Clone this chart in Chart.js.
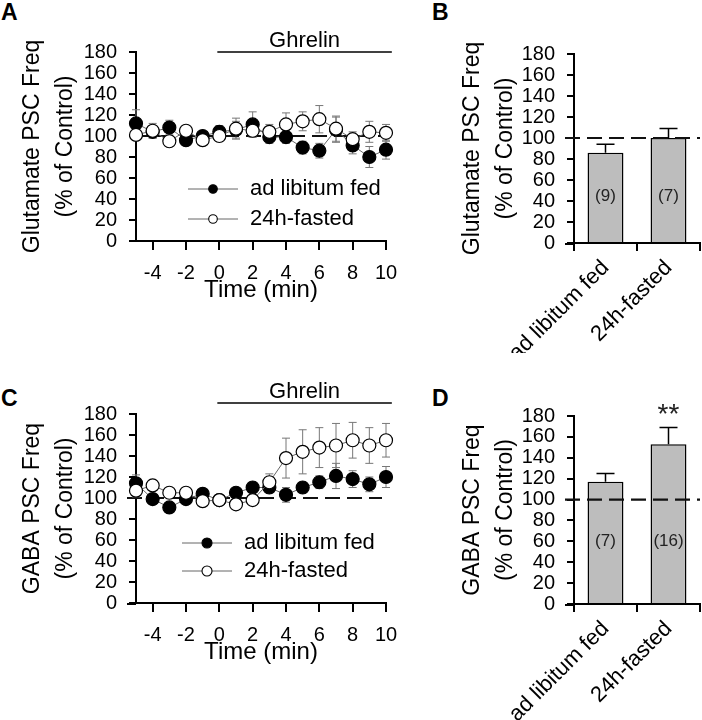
<!DOCTYPE html>
<html>
<head>
<meta charset="utf-8">
<script src="https://cdn.jsdelivr.net/npm/chart.js@4.4.1/dist/chart.umd.min.js"></script>
<style>
  body { margin: 0; background: #fff; width: 702px; height: 720px; position: relative; overflow: hidden; }
  canvas { position: absolute; }
  .letter { position: absolute; font: bold 23px "Liberation Sans", Arial, sans-serif; line-height: 23px; color: #000; }
</style>
</head>
<body>
<div class="letter" style="left:1px;top:1px">A</div>
<div class="letter" style="left:432px;top:1px">B</div>
<div class="letter" style="left:1px;top:387px">C</div>
<div class="letter" style="left:432px;top:387px">D</div>

<canvas id="chartA" width="410" height="320" style="left:0;top:0"></canvas>
<canvas id="chartB" width="272" height="353" style="left:430px;top:0"></canvas>
<canvas id="chartC" width="410" height="320" style="left:0;top:362px"></canvas>
<canvas id="chartD" width="272" height="358" style="left:430px;top:362px"></canvas>

<script>
Chart.defaults.font.family = '"Liberation Sans", Arial, sans-serif';
Chart.defaults.color = "#000";

// time course (min) and axis ticks
const times = [-5, -4, -3, -2, -1, 0, 1, 2, 3, 4, 5, 6, 7, 8, 9, 10];
const xTicks = [-4, -2, 0, 2, 4, 6, 8, 10];
const yTicks = [0, 20, 40, 60, 80, 100, 120, 140, 160, 180];
const seriesNames = ["ad libitum fed", "24h-fasted"];

// A: glutamate PSC frequency (% of control)
const gluFed = [112, 104, 108, 96, 100, 104, 106, 111, 99, 99, 89, 86, 106, 91, 80, 87];
const gluFedErr = [13, 6, 7, 5, 4, 6, 8, 12, 6, 6, 6, 7, 12, 8, 10, 9];
const gluFasted = [101, 105, 95, 105, 96, 100, 107, 105, 104, 111, 114, 116, 107, 97, 104, 103];
const gluFastedErr = [5, 7, 5, 4, 4, 5, 10, 6, 7, 11, 9, 13, 12, 7, 10, 8];

// C: GABA PSC frequency (% of control)
const gabaFed = [114, 99, 91, 99, 104, 98, 105, 110, 110, 103, 110, 115, 121, 118, 113, 120];
const gabaFedErr = [8, 5, 4, 4, 4, 4, 4, 5, 5, 7, 5, 6, 12, 8, 7, 10];
const gabaFasted = [107, 112, 105, 105, 97, 98, 94, 98, 115, 138, 144, 148, 150, 155, 150, 155];
const gabaFastedErr = [6, 5, 4, 4, 4, 4, 4, 5, 8, 19, 21, 19, 21, 17, 17, 16];

// B and D: summary bars
const barCategories = ["ad libitum fed", "24h-fasted"];
const gluBars = [86, 100];
const gluBarsErr = [8, 9];
const gluN = ["(9)", "(7)"];
const gabaBars = [117, 153];
const gabaBarsErr = [8, 16];
const gabaN = ["(7)", "(16)"];
const gabaStars = ["", "**"];

const FONT = '"Liberation Sans", Arial, sans-serif';

function drawRefLine(chart, r) {
    const ctx = chart.ctx, a = chart.chartArea;
    const y = chart.scales.y.getPixelForValue(r.value);
    ctx.save();
    ctx.strokeStyle = "#111";
    ctx.lineWidth = 2.2;
    ctx.setLineDash([15, 7]);
    ctx.beginPath();
    ctx.moveTo(a.left - (r.extendLeft || 0), y);
    ctx.lineTo(a.right - (r.trimRight || 0), y);
    ctx.stroke();
    ctx.restore();
}

// dashed control line, error bars, ghrelin bar, legend, n labels
const panelDecor = {
    id: "panelDecor",
    beforeDatasetsDraw(chart, args, o) {
        const ctx = chart.ctx, yScale = chart.scales.y;
        if (o.refLine && !o.refLine.onTop) drawRefLine(chart, o.refLine);
        chart.data.datasets.forEach((ds, di) => {
            if (!ds.errors) return;
            const meta = chart.getDatasetMeta(di);
            ctx.save();
            ctx.strokeStyle = ds.errorColor;
            ctx.lineWidth = ds.errorWidth;
            meta.data.forEach((el, i) => {
                const v = typeof ds.data[i] === "object" ? ds.data[i].y : ds.data[i];
                const top = yScale.getPixelForValue(v + ds.errors[i]);
                const bot = ds.errorDown ? yScale.getPixelForValue(v - ds.errors[i]) : el.y;
                ctx.beginPath();
                ctx.moveTo(el.x, top);
                ctx.lineTo(el.x, bot);
                ctx.moveTo(el.x - ds.capHalf, top);
                ctx.lineTo(el.x + ds.capHalf, top);
                if (ds.errorDown) {
                    ctx.moveTo(el.x - ds.capHalf, bot);
                    ctx.lineTo(el.x + ds.capHalf, bot);
                }
                ctx.stroke();
            });
            ctx.restore();
        });
    },
    afterDatasetsDraw(chart, args, o) {
        const ctx = chart.ctx, a = chart.chartArea, yScale = chart.scales.y;
        if (o.refLine && o.refLine.onTop) drawRefLine(chart, o.refLine);
        ctx.save();
        if (o.axisExtend) {
            ctx.strokeStyle = "#000";
            ctx.lineWidth = 2;
            ctx.beginPath();
            ctx.moveTo(a.left - o.axisExtend, a.bottom + 1);
            ctx.lineTo(a.left, a.bottom + 1);
            ctx.stroke();
        }
        if (o.ghrelin) {
            const g = o.ghrelin, xs = chart.scales.x;
            const x0 = xs.getPixelForValue(g.from), x1 = xs.getPixelForValue(g.to);
            const ly = a.top - g.lift;
            ctx.strokeStyle = "#000";
            ctx.lineWidth = 1.3;
            ctx.beginPath();
            ctx.moveTo(x0, ly);
            ctx.lineTo(x1, ly);
            ctx.stroke();
            ctx.fillStyle = "#000";
            ctx.font = "22px " + FONT;
            ctx.textAlign = "center";
            ctx.textBaseline = "middle";
            ctx.fillText(g.text, (x0 + x1) / 2, ly - 11);
        }
        if (o.legend) {
            const L = o.legend;
            chart.data.datasets.forEach((ds, i) => {
                const cy = a.top + L.top + i * L.gap;
                const cx = a.left + L.left;
                ctx.strokeStyle = "#666";
                ctx.lineWidth = 1;
                ctx.beginPath();
                ctx.moveTo(cx - 25, cy);
                ctx.lineTo(cx + 25, cy);
                ctx.stroke();
                ctx.beginPath();
                ctx.arc(cx, cy, L.radius, 0, Math.PI * 2);
                ctx.fillStyle = ds.pointBackgroundColor;
                ctx.fill();
                ctx.strokeStyle = "#000";
                ctx.lineWidth = 1.1;
                ctx.stroke();
                ctx.fillStyle = "#000";
                ctx.font = "22px " + FONT;
                ctx.textAlign = "left";
                ctx.textBaseline = "middle";
                ctx.fillText(ds.label, cx + 37, cy);
            });
        }
        if (o.nLabels) {
            const meta = chart.getDatasetMeta(0);
            const ds = chart.data.datasets[0];
            ctx.fillStyle = "#222";
            ctx.textAlign = "center";
            ctx.textBaseline = "middle";
            meta.data.forEach((el, i) => {
                ctx.font = "17px " + FONT;
                ctx.fillText(o.nLabels.texts[i], el.x, yScale.getPixelForValue(o.nLabels.at));
                if (o.stars && o.stars[i]) {
                    ctx.font = "28px " + FONT;
                    const top = yScale.getPixelForValue(ds.data[i] + ds.errors[i]);
                    ctx.fillText(o.stars[i], el.x, top - 12);
                }
            });
        }
        ctx.restore();
    }
};

function yAxis(titleLine, width, titlePad) {
    return {
        min: 0,
        max: 180,
        afterBuildTicks: s => { s.ticks = yTicks.map(v => ({ value: v })); },
        afterFit: s => { s.width = width; },
        border: { color: "#000", width: 2 },
        grid: { drawOnChartArea: false, color: "#000", lineWidth: 2, tickLength: 7 },
        ticks: { color: "#000", font: { size: 20 }, padding: 12, autoSkip: false },
        title: {
            display: true,
            text: [titleLine, "(% of Control)"],
            color: "#000",
            font: { size: 23, lineHeight: 1.4 },
            padding: { top: titlePad, bottom: 0 }
        }
    };
}

function timeCourse(id, fed, fedErr, fasted, fastedErr, yTitle, decor) {
    const mk = (vals, errs, name, fill, order) => ({
        label: name,
        data: times.map((t, i) => ({ x: t, y: vals[i] })),
        errors: errs,
        errorDown: true,
        errorColor: "#777",
        errorWidth: 1,
        capHalf: 4,
        borderColor: "#666",
        borderWidth: 1,
        pointRadius: 6.5,
        pointBorderWidth: 1.2,
        pointBackgroundColor: fill,
        pointBorderColor: "#000",
        clip: false,
        order: order
    });
    return new Chart(document.getElementById(id), {
        type: "line",
        data: {
            datasets: [
                mk(fed, fedErr, seriesNames[0], "#000", 1),
                mk(fasted, fastedErr, seriesNames[1], "#fff", 0)
            ]
        },
        options: {
            responsive: false,
            animation: false,
            devicePixelRatio: 1,
            layout: { padding: { top: 52, right: 24, left: 0, bottom: 0 } },
            plugins: { legend: { display: false }, tooltip: { enabled: false }, panelDecor: decor },
            scales: {
                x: {
                    type: "linear",
                    min: -5,
                    max: 10,
                    afterBuildTicks: s => { s.ticks = xTicks.map(v => ({ value: v })); },
                    afterFit: s => { s.height = 79; },
                    border: { color: "#000", width: 2 },
                    grid: { drawOnChartArea: false, color: "#000", lineWidth: 2, tickLength: 9 },
                    ticks: { color: "#000", font: { size: 20 }, padding: 11, maxRotation: 0, autoSkip: false },
                    title: { display: true, text: "Time (min)", color: "#000", font: { size: 24 }, padding: { top: 0, bottom: 15 } }
                },
                y: yAxis(yTitle, 136, 17)
            }
        },
        plugins: [panelDecor]
    });
}

function summary(id, vals, errs, yTitle, decor, xHeight) {
    return new Chart(document.getElementById(id), {
        type: "bar",
        data: {
            labels: barCategories,
            datasets: [{
                data: vals,
                errors: errs,
                errorDown: false,
                errorColor: "#000",
                errorWidth: 1.5,
                capHalf: 9,
                backgroundColor: "#bdbdbd",
                borderColor: "#000",
                borderWidth: 1.5,
                barPercentage: 0.57,
                categoryPercentage: 1
            }]
        },
        options: {
            responsive: false,
            animation: false,
            devicePixelRatio: 1,
            layout: { padding: { top: 54, right: 2, left: 0, bottom: 0 } },
            plugins: { legend: { display: false }, tooltip: { enabled: false }, panelDecor: decor },
            scales: {
                x: {
                    afterFit: s => { s.height = xHeight; },
                    border: { color: "#000", width: 2 },
                    grid: { drawOnChartArea: false, color: "#000", lineWidth: 2, tickLength: 8 },
                    ticks: { color: "#000", font: { size: 22 }, padding: 4, minRotation: 45, maxRotation: 45, autoSkip: false }
                },
                y: yAxis(yTitle, 144, 27)
            }
        },
        plugins: [panelDecor]
    });
}

timeCourse("chartA", gluFed, gluFedErr, gluFasted, gluFastedErr, "Glutamate PSC Freq", {
    refLine: { value: 100, extendLeft: 0, trimRight: 0 },
    ghrelin: { text: "Ghrelin", from: -0.12, to: 10.35, lift: 0 },
    legend: { left: 77, top: 137, gap: 30, radius: 4.3 }
});

timeCourse("chartC", gabaFed, gabaFedErr, gabaFasted, gabaFastedErr, "GABA PSC Freq", {
    refLine: { value: 100, extendLeft: 9, trimRight: 4 },
    axisExtend: 9,
    ghrelin: { text: "Ghrelin", from: -0.12, to: 10.35, lift: 11 },
    legend: { left: 71, top: 129, gap: 28, radius: 5 }
});

summary("chartB", gluBars, gluBarsErr, "Glutamate PSC Freq", {
    refLine: { value: 100, extendLeft: 9, onTop: true },
    axisExtend: 9,
    nLabels: { texts: gluN, at: 44 }
}, 110);

summary("chartD", gabaBars, gabaBarsErr, "GABA PSC Freq", {
    refLine: { value: 100, extendLeft: 9, onTop: true },
    axisExtend: 9,
    nLabels: { texts: gabaN, at: 60 },
    stars: gabaStars
}, 116);
</script>
</body>
</html>
